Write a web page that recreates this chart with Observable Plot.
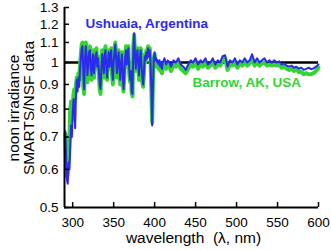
<!DOCTYPE html>
<html><head><meta charset="utf-8">
<script src="https://cdn.jsdelivr.net/npm/d3@7"></script>
<script src="https://cdn.jsdelivr.net/npm/@observablehq/plot@0.6"></script>
<style>body{margin:0;background:#fff;}</style>
</head><body><div id="chart"></div>
<script>
const wavelength = [
291,292,293,294,295,296,297,298,299,300,
301,302,303,304,305,306,307,308,309,310,
311,312,313,314,315,316,317,318,319,320,
321,322,323,324,325,326,327,328,329,330,
331,332,333,334,335,336,337,338,339,340,
341,342,343,344,345,346,347,348,349,350,
351,352,353,354,355,356,357,358,359,360,
361,362,363,364,365,366,367,368,369,370,
371,372,373,374,375,376,377,378,379,380,
381,382,383,384,385,386,387,388,389,390,
391,392,393,394,395,396,397,398,399,400,
401,402,403,404,405,406,407,408,409,410,
412,414,416,418,420,
423,426,429,432,435,438,441,444,447,450,
453,456,459,462,465,468,471,474,477,480,
483,486,489,492,495,498,501,504,507,510,
513,516,519,522,525,528,531,534,537,540,
543,546,549,552,555,558,561,564,567,570,
573,576,579,582,585,588,591,594,597,600];
const ushuaia = [
.72,.63,.57,.56,.62,.60,.66,.74,.70,.78,
.84,.82,.73,.86,.92,.87,.93,.89,.97,1.02,
1.07,1.08,.95,.88,1.01,1.08,1.03,.94,.99,1.05,
1.06,.97,.94,1.01,1.04,.95,.99,1.03,1.05,.98,
1.02,.96,.90,.88,.97,1.04,1.01,.95,1.03,1.06,
.99,.93,1.00,1.05,.98,1.02,1.06,.97,.92,1.00,
1.05,1.09,1.02,.95,1.01,1.05,.98,.92,.99,1.04,
.96,.88,.94,1.02,1.06,.99,1.04,1.07,.97,.92,
.96,.87,.86,1.06,1.15,1.04,.97,1.03,1.06,1.00,
.94,1.02,1.06,.99,.93,.90,.96,1.03,1.01,1.05,
1.02,1.07,1.03,1.06,1.00,.88,.74,.90,1.02,1.05,
1.01,1.02,1.00,1.01,.99,1.01,.98,1.00,.97,1.00,
1.02,.99,1.01,1.00,.98,
1.01,1.00,1.02,.99,.98,.965,.99,1.01,1.00,1.02,
.99,1.01,1.00,1.02,.99,1.00,1.02,.99,1.01,1.00,
1.03,1.035,.98,1.01,1.00,1.02,.99,1.01,1.00,1.02,
1.00,1.01,1.04,1.00,1.02,1.00,1.01,1.02,1.00,1.01,
1.00,1.01,1.00,1.005,.99,.995,.985,.98,.985,.975,
.98,.97,.975,.965,.97,.975,.968,.972,.98,.99];
const barrow = [
.71,.62,.58,.59,.63,.70,.80,.83,.76,.80,
.86,.88,.84,.90,.93,.89,.95,.92,.99,1.04,
1.09,1.10,.89,.86,1.04,1.10,1.06,.91,1.00,1.07,
1.08,.96,.92,1.03,1.06,.93,1.00,1.05,1.07,.97,
1.03,.94,.88,.86,.96,1.06,1.02,.93,1.05,1.08,
1.00,.92,1.01,1.06,.97,1.04,1.07,.95,.90,1.02,
1.07,1.10,1.03,.93,1.02,1.06,.96,.90,1.00,1.05,
.94,.87,.93,1.03,1.08,.98,1.05,1.08,.95,.91,
.95,.86,.85,1.08,1.14,1.05,.96,1.04,1.07,.99,
.92,1.03,1.07,.98,.91,.89,.95,1.04,1.00,1.06,
1.03,1.08,1.04,1.07,1.01,.87,.75,.92,1.01,1.04,
.99,1.00,.98,.99,.97,.99,.96,.98,.95,.98,
1.00,.97,.99,.98,.96,
.99,.98,1.00,.97,.96,.95,.97,.99,.98,1.00,
.97,.99,.98,1.00,.975,.985,1.00,.975,.99,.985,
1.01,1.02,.965,.99,.985,1.00,.975,.995,.985,1.00,
.985,.995,1.02,.985,1.00,.985,.995,1.00,.985,.99,
.985,.99,.985,.99,.975,.98,.97,.965,.97,.96,
.965,.955,.955,.945,.95,.945,.945,.95,.96,.975];
const yTicks = [0.5,0.6,0.7,0.8,0.9,1,1.1,1.2,1.3];
const xTicks = [300,350,400,450,500,550,600];
const seriesNames = ["Ushuaia, Argentina","Barrow, AK, USA"];
const axisTitleX = "wavelength\u00a0 (\u03bb, nm)";
const axisTitleY = ["noon irradiance", "SMARTS/NSF data"];

const blue = "#2b2bee";
const green = "#33d433";
const ushuaiaData = wavelength.map((w,i)=>({w, v: ushuaia[i]}));
const barrowData = wavelength.map((w,i)=>({w, v: barrow[i]}));
const font = "'Liberation Sans', Arial, sans-serif";

const chart = Plot.plot({
  width: 331, height: 250,
  marginLeft: 64, marginRight: 13, marginTop: 7, marginBottom: 43,
  style: {fontFamily: font, fontSize: "13.5px", color: "black", background: "white"},
  x: {domain: [290, 600], label: null},
  y: {type: "log", domain: [0.5, 1.3], label: null},
  marks: [
    Plot.ruleY([1], {stroke: "black", strokeWidth: 2.5}),
    Plot.line(barrowData, {x: "w", y: "v", stroke: green, strokeWidth: 4, strokeLinejoin: "round"}),
    Plot.line(ushuaiaData, {x: "w", y: "v", stroke: blue, strokeWidth: 2, strokeLinejoin: "round"}),
    Plot.ruleX([290], {stroke: "black", strokeWidth: 2}),
    Plot.ruleY([0.5], {stroke: "black", strokeWidth: 2}),
    Plot.tickY(yTicks, {y: d => d, insetRight: 249, stroke: "black", strokeWidth: 1.5}),
    Plot.tickX(xTicks, {x: d => d, insetTop: 195, stroke: "black", strokeWidth: 1.5}),
    Plot.axisY({ticks: yTicks, tickSize: 0, tickPadding: 6, tickFormat: d => String(d), label: null}),
    Plot.axisX({ticks: xTicks, tickSize: 0, tickPadding: 10, tickFormat: d => String(d), label: null}),
    Plot.text([axisTitleX], {text: d => d, frameAnchor: "bottom", lineAnchor: "middle", textAnchor: "middle", dy: 31, dx: 2, fontSize: 15.5}),
    Plot.text([seriesNames[0]], {text: d => d, x: 315.6, y: 1.204, textAnchor: "start", fill: blue, fontWeight: "bold", fontSize: 13.5}),
    Plot.text([seriesNames[1]], {text: d => d, x: 446.2, y: 0.909, textAnchor: "start", fill: green, fontWeight: "bold", fontSize: 13.5})
  ]
});
const svg = d3.select(chart);
const cy = 108;
axisTitleY.forEach((t, i) => {
  svg.append("text")
    .attr("transform", `translate(${13 + i * 15.5},${cy}) rotate(-90)`)
    .attr("text-anchor", "middle")
    .attr("dy", 5.5)
    .attr("font-family", font)
    .attr("font-size", 15.5)
    .attr("fill", "black")
    .text(t);
});
document.getElementById("chart").appendChild(chart);
</script>
</body></html>
